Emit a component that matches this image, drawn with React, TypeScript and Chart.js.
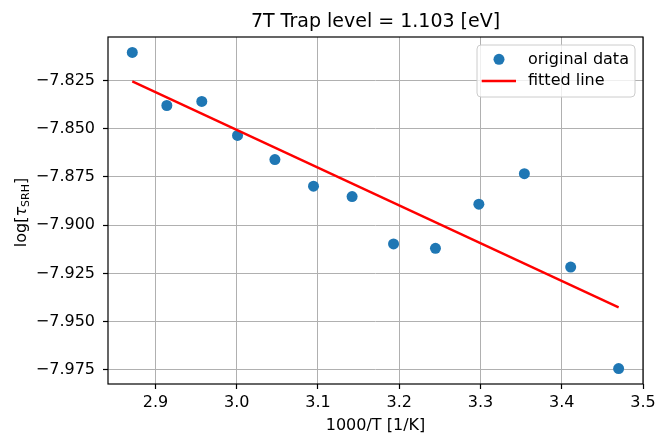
import React, { useEffect, useRef } from "react";
import { Chart, registerables } from "chart.js";

Chart.register(...registerables);

// ---- data ----
const tempX = [2.8715, 2.914, 2.957, 3.001, 3.047, 3.0945, 3.142, 3.193, 3.2446, 3.298, 3.354, 3.411, 3.47];
const logTau = [-7.8105, -7.838, -7.8359, -7.8535, -7.866, -7.8798, -7.8852, -7.9097, -7.912, -7.8891, -7.8733, -7.9217, -7.9743];
const fitX = [2.8715, 3.47];
const fitY = [-7.8255, -7.9426];
const xTicks = [2.9, 3.0, 3.1, 3.2, 3.3, 3.4, 3.5];
const yTicks = [-7.975, -7.95, -7.925, -7.9, -7.875, -7.85, -7.825];
const xRange = [2.8416, 3.5];
const yRange = [-7.9823, -7.8025];
const titleText = "7T Trap level = 1.103 [eV]";
const xLabel = "1000/T [1/K]";
const yLabelParts = ["log[", "τ", "SRH", "]"];
const legendLabels = ["original data", "fitted line"];

const FONT = "'DejaVu Sans', sans-serif";
const BLUE = "#1f77b4";
const RED = "#ff0000";

const framePlugin = {
  id: "frame",
  afterDatasetsDraw(chart: any) {
    const { ctx, chartArea: ca } = chart;
    ctx.save();
    ctx.strokeStyle = "#000";
    ctx.lineWidth = 1.2;
    ctx.strokeRect(ca.left, ca.top, ca.right - ca.left, ca.bottom - ca.top);
    ctx.restore();
  },
};

const yLabelPlugin = {
  id: "ylabel",
  afterDraw(chart: any) {
    const { ctx, chartArea: ca } = chart;
    const parts: [string, string, number][] = [
      [yLabelParts[0], `16px ${FONT}`, 0],
      [yLabelParts[1], `italic 16px ${FONT}`, 0],
      [yLabelParts[2], `11px ${FONT}`, 3.5],
      [yLabelParts[3], `16px ${FONT}`, 0],
    ];
    ctx.save();
    let total = 0;
    const widths = parts.map(([t, f]) => {
      ctx.font = f;
      const w = ctx.measureText(t).width;
      total += w;
      return w;
    });
    ctx.translate(25.5, (ca.top + ca.bottom) / 2 + 2);
    ctx.rotate(-Math.PI / 2);
    ctx.fillStyle = "#000";
    ctx.textBaseline = "alphabetic";
    ctx.textAlign = "left";
    let x = -total / 2;
    parts.forEach(([t, f, dy], i) => {
      ctx.font = f;
      ctx.fillText(t, x, dy);
      x += widths[i];
    });
    ctx.restore();
  },
};

const legendPlugin = {
  id: "customLegend",
  afterDraw(chart: any) {
    const { ctx, chartArea: ca } = chart;
    const w = 158;
    const h = 52;
    const lx = ca.right - 8 - w;
    const ly = ca.top + 8;
    ctx.save();
    ctx.beginPath();
    ctx.roundRect(lx, ly, w, h, 4);
    ctx.fillStyle = "rgba(255,255,255,0.8)";
    ctx.fill();
    ctx.strokeStyle = "#cccccc";
    ctx.lineWidth = 1;
    ctx.stroke();

    ctx.beginPath();
    ctx.arc(lx + 22, ly + 14.3, 5.5, 0, Math.PI * 2);
    ctx.fillStyle = BLUE;
    ctx.fill();

    ctx.beginPath();
    ctx.moveTo(lx + 4.7, ly + 36);
    ctx.lineTo(lx + 39, ly + 36);
    ctx.strokeStyle = RED;
    ctx.lineWidth = 2.3;
    ctx.stroke();

    ctx.fillStyle = "#000";
    ctx.font = `16px ${FONT}`;
    ctx.textBaseline = "middle";
    ctx.textAlign = "left";
    ctx.fillText(legendLabels[0], lx + 51, ly + 14.5);
    ctx.fillText(legendLabels[1], lx + 51, ly + 36);
    ctx.restore();
  },
};

const fmtY = (v: number) => (v < 0 ? "\u2212" : "") + Math.abs(v).toFixed(3);

export default function App() {
  const ref = useRef<HTMLCanvasElement>(null);

  useEffect(() => {
    if (!ref.current) return;
    const chart = new Chart(ref.current, {
      type: "scatter",
      data: {
        datasets: [
          {
            label: legendLabels[1],
            data: fitX.map((x, i) => ({ x, y: fitY[i] })),
            showLine: true,
            borderColor: RED,
            backgroundColor: RED,
            borderWidth: 2.3,
            pointRadius: 0,
            fill: false,
            order: 0,
          },
          {
            label: legendLabels[0],
            data: tempX.map((x, i) => ({ x, y: logTau[i] })),
            backgroundColor: BLUE,
            borderColor: BLUE,
            borderWidth: 0,
            pointRadius: 5.5,
            order: 1,
          },
        ],
      },
      options: {
        animation: false,
        responsive: false,
        events: [],
        layout: { padding: { left: 0, right: 13, top: 0, bottom: 0 } },
        plugins: {
          legend: { display: false },
          tooltip: { enabled: false },
          title: {
            display: true,
            text: titleText,
            fullSize: false,
            color: "#000",
            font: { family: FONT, size: 19, weight: "normal" },
            padding: { top: 11, bottom: 3.2 },
          },
        },
        scales: {
          x: {
            type: "linear",
            min: xRange[0],
            max: xRange[1],
            afterBuildTicks: (s: any) => {
              s.ticks = xTicks.map((v) => ({ value: v }));
            },
            afterFit: (s: any) => {
              s.height = 53;
              s.paddingLeft = 0;
              s.paddingRight = 0;
            },
            border: { display: false },
            grid: { color: "#b0b0b0", lineWidth: 1, tickColor: "#000", tickLength: 5, tickWidth: 1.2 },
            ticks: {
              color: "#000",
              font: { family: FONT, size: 16 },
              padding: 4,
              maxRotation: 0,
              autoSkip: false,
              callback: (v: any) => Number(v).toFixed(1),
            },
            title: {
              display: true,
              text: xLabel,
              color: "#000",
              font: { family: FONT, size: 16 },
              padding: { top: 0, bottom: 1.5 },
            },
          },
          y: {
            type: "linear",
            min: yRange[0],
            max: yRange[1],
            afterBuildTicks: (s: any) => {
              s.ticks = yTicks.map((v) => ({ value: v }));
            },
            afterFit: (s: any) => {
              s.width = 108;
              s.paddingTop = 0;
              s.paddingBottom = 0;
            },
            border: { display: false },
            grid: { color: "#b0b0b0", lineWidth: 1, tickColor: "#000", tickLength: 5, tickWidth: 1.2 },
            ticks: {
              color: "#000",
              font: { family: FONT, size: 16 },
              padding: 8,
              autoSkip: false,
              callback: (v: any) => fmtY(Number(v)),
            },
          },
        },
      },
      plugins: [framePlugin, yLabelPlugin, legendPlugin],
    } as any);
    return () => chart.destroy();
  }, []);

  return (
    <div style={{ position: "absolute", left: 0, top: 0, width: 656, height: 437, background: "#fff" }}>
      <canvas ref={ref} width={656} height={437} style={{ display: "block" }} />
    </div>
  );
}
